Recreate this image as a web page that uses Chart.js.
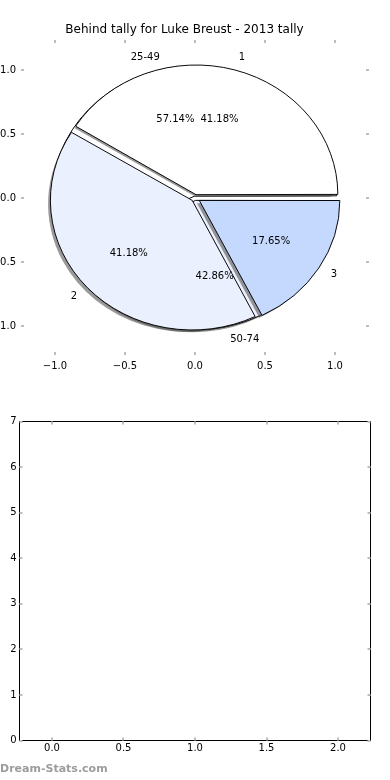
<!DOCTYPE html>
<html lang="en">
<head>
<meta charset="UTF-8">
<title>Behind tally for Luke Breust - 2013 tally</title>
<script src="https://cdn.jsdelivr.net/npm/chart.js"></script>
<style>
    body { margin: 0; background: #fff; }
    #page { position: relative; width: 390px; height: 780px; overflow: hidden; }
    .layer { position: absolute; left: 0; top: 0; }
    #emptyAxes { position: absolute; left: 0; top: 390px; }
    /* watermark under the lower axes */
    #mark { position: absolute; left: 0; top: 762px; font: bold 11px "DejaVu Sans", sans-serif; color: #9c9c9c; }
</style>
</head>
<body>
<div id="page">
    <canvas id="pieRange" class="layer" width="390" height="390"></canvas>
    <canvas id="pieTally" class="layer" width="390" height="390"></canvas>
    <canvas id="pieAxes" class="layer" width="390" height="390"></canvas>
    <canvas id="emptyAxes" width="390" height="390"></canvas>
    <div id="mark">Dream-Stats.com</div>
</div>
<script>
// tally pie (drawn on top)
var tallyLabels = ['1', '2', '3'];
var tallyValues = [7, 7, 3];
// range pie (underneath)
var rangeLabels = ['25-49', '50-74'];
var rangeValues = [4, 3];

// tick values
var pieTicks = [-1, -0.5, 0, 0.5, 1];
var emptyXTicks = [0, 0.5, 1, 1.5, 2];
var emptyYTicks = [0, 1, 2, 3, 4, 5, 6, 7];

// styles
var tallyColors = ['#ffffff', '#eaf0fd', '#c5d8fd'];
var rangeColors = ['#ffffff', '#eaf0fd'];
var tallyExplode = 0.04;
var rangeExplode = 0.03;

var UNIT = 140;              // px per data unit, horizontally
var SQUASH = 128 / 140;      // pie axes are not equal aspect -> ellipse
var SHADOW = 0.02 * UNIT;
var FONT = '"DejaVu Sans", sans-serif';

function fmtTick(v) {
    return (v < 0 ? '\u2212' : '') + Math.abs(v).toFixed(1);
}

// squash the pie vertically and put the shadows under the wedges
var squash = {
    id: 'squash',
    beforeDatasetsDraw: function (chart) {
        var ctx = chart.ctx, a = chart.chartArea;
        var cx = (a.left + a.right) / 2, cy = (a.top + a.bottom) / 2;
        ctx.save();
        ctx.translate(cx, cy);
        ctx.scale(1, SQUASH);
        ctx.translate(-cx, -cy);
        chart.getDatasetMeta(0).data.forEach(function (arc) {
            var mid = (arc.startAngle + arc.endAngle) / 2;
            var c = arc.endAngle - arc.startAngle;
            var t = (arc.options.offset || 0) / 4 * (2 - Math.sin(Math.min(Math.PI, c)));
            var x = arc.x + Math.cos(mid) * t - SHADOW;
            var y = arc.y + Math.sin(mid) * t + SHADOW;
            ctx.beginPath();
            ctx.moveTo(x, y);
            ctx.arc(x, y, arc.outerRadius, arc.startAngle, arc.endAngle);
            ctx.closePath();
            ctx.fillStyle = 'rgba(70,70,70,0.55)';
            ctx.fill();
        });
    },
    afterDatasetsDraw: function (chart) {
        chart.ctx.restore();
    }
};

function makePie(id, labels, values, colors, explode) {
    // matplotlib goes counter-clockwise from 3 o'clock, Chart.js clockwise
    var vals = values.slice().reverse();
    var total = values.reduce(function (s, v) { return s + v; }, 0);
    // ArcElement moves a wedge by offset/4 * (2 - sin(angle))
    var offsets = vals.map(function (v) {
        var c = v / total * 2 * Math.PI;
        return explode * UNIT * 4 / (2 - Math.sin(Math.min(Math.PI, c)));
    });
    return new Chart(document.getElementById(id), {
        type: 'pie',
        data: {
            labels: labels.slice().reverse(),
            datasets: [{
                data: vals,
                backgroundColor: colors.slice().reverse(),
                borderColor: '#000',
                borderWidth: 1,
                offset: offsets,
                hoverOffset: 0
            }]
        },
        options: {
            responsive: false,
            animation: false,
            events: [],
            rotation: 90,
            radius: UNIT,
            layout: { padding: { top: 6 } },
            plugins: { legend: { display: false }, tooltip: { enabled: false } }
        },
        plugins: [squash]
    });
}

makePie('pieRange', rangeLabels, rangeValues, rangeColors, rangeExplode);
makePie('pieTally', tallyLabels, tallyValues, tallyColors, tallyExplode);

// short grey ticks pointing into the axes, optional frame
var innerTicks = {
    id: 'innerTicks',
    afterDraw: function (chart, args, opts) {
        var ctx = chart.ctx, a = chart.chartArea;
        var xs = chart.scales.x, ys = chart.scales.y;
        ctx.save();
        if (opts.frame) {
            ctx.strokeStyle = '#000';
            ctx.lineWidth = 1;
            ctx.strokeRect(a.left, a.top, a.right - a.left, a.bottom - a.top);
        }
        ctx.fillStyle = '#bdbdbd';
        xs.ticks.forEach(function (t, i) {
            var px = Math.round(xs.getPixelForTick(i));
            ctx.fillRect(px - 1, a.top, 2, 3);
            ctx.fillRect(px - 1, a.bottom - 3, 2, 3);
        });
        ys.ticks.forEach(function (t, i) {
            var py = Math.round(ys.getPixelForTick(i));
            ctx.fillRect(a.left, py - 1, 3, 2);
            ctx.fillRect(a.right - 3, py - 1, 3, 2);
        });
        ctx.restore();
    }
};

// wedge labels and percentages, placed like matplotlib does
function wedgeText(values, labels, explode) {
    var total = values.reduce(function (s, v) { return s + v; }, 0);
    var start = 0, out = [];
    values.forEach(function (v, i) {
        var frac = v / total;
        var mid = (start + frac / 2) * 2 * Math.PI;
        var cx = Math.cos(mid), cy = Math.sin(mid);
        out.push({ x: (1.1 + explode) * cx, y: (1.1 + explode) * cy, text: labels[i], align: cx > 0 ? 'left' : 'right' });
        out.push({ x: (0.6 + explode) * cx, y: (0.6 + explode) * cy, text: (frac * 100).toFixed(2) + '%', align: 'center' });
        start += frac;
    });
    return out;
}

var pieText = {
    id: 'pieText',
    afterDraw: function (chart) {
        var ctx = chart.ctx, xs = chart.scales.x, ys = chart.scales.y;
        var items = wedgeText(tallyValues, tallyLabels, tallyExplode)
            .concat(wedgeText(rangeValues, rangeLabels, rangeExplode));
        ctx.save();
        ctx.font = '10px ' + FONT;
        ctx.fillStyle = '#000';
        ctx.textBaseline = 'middle';
        items.forEach(function (it) {
            ctx.textAlign = it.align;
            ctx.fillText(it.text, xs.getPixelForValue(it.x), ys.getPixelForValue(it.y));
        });
        ctx.restore();
    }
};

function axis(min, max, ticks, fmt, padding, size, isX) {
    return {
        type: 'linear',
        min: min,
        max: max,
        afterBuildTicks: function (s) { s.ticks = ticks.map(function (v) { return { value: v }; }); },
        afterFit: function (s) { if (isX) { s.height = size; } else { s.width = size; } },
        grid: { display: false, drawTicks: false },
        border: { display: false },
        ticks: { color: '#000', padding: padding, font: { family: FONT, size: 10 }, callback: fmt }
    };
}

// axes around the pies (no frame)
new Chart(document.getElementById('pieAxes'), {
    type: 'scatter',
    data: { datasets: [] },
    options: {
        responsive: false,
        animation: false,
        events: [],
        layout: { padding: { left: 0, right: 21, top: 0, bottom: 15 } },
        scales: {
            x: axis(-1.243, 1.243, pieTicks, fmtTick, 5, 20, true),
            y: axis(-1.227, 1.234, pieTicks, fmtTick, 5, 21, false)
        },
        plugins: {
            legend: { display: false },
            tooltip: { enabled: false },
            title: {
                display: true,
                text: 'Behind tally for Luke Breust - 2013 tally',
                color: '#000',
                font: { family: FONT, size: 12, weight: 'normal' },
                padding: { top: 23, bottom: 2.6 }
            },
            innerTicks: { frame: false }
        }
    },
    plugins: [innerTicks, pieText]
});

// empty lower axes
new Chart(document.getElementById('emptyAxes'), {
    type: 'scatter',
    data: { datasets: [] },
    options: {
        responsive: false,
        animation: false,
        events: [],
        layout: { padding: { left: 0, right: 19.5, top: 31.5, bottom: 19.5 } },
        scales: {
            x: axis(-0.227, 2.227, emptyXTicks, function (v) { return v.toFixed(1); }, 2, 20, true),
            y: axis(0, 7, emptyYTicks, function (v) { return String(v); }, 3, 19.5, false)
        },
        plugins: {
            legend: { display: false },
            tooltip: { enabled: false },
            innerTicks: { frame: true }
        }
    },
    plugins: [innerTicks]
});
</script>
</body>
</html>
